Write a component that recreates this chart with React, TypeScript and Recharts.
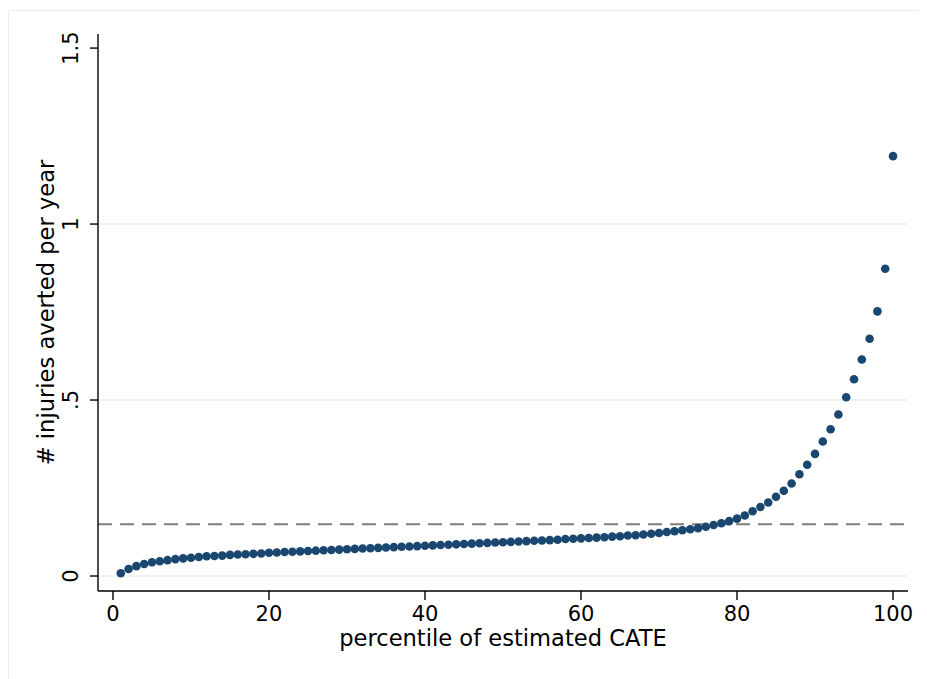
import React from "react"
import { ScatterChart, Scatter, XAxis, YAxis, ReferenceLine, Label } from "recharts"

// percentile of estimated CATE
const percentiles = [
  1, 2, 3, 4, 5, 6, 7, 8, 9, 10,
  11, 12, 13, 14, 15, 16, 17, 18, 19, 20,
  21, 22, 23, 24, 25, 26, 27, 28, 29, 30,
  31, 32, 33, 34, 35, 36, 37, 38, 39, 40,
  41, 42, 43, 44, 45, 46, 47, 48, 49, 50,
  51, 52, 53, 54, 55, 56, 57, 58, 59, 60,
  61, 62, 63, 64, 65, 66, 67, 68, 69, 70,
  71, 72, 73, 74, 75, 76, 77, 78, 79, 80,
  81, 82, 83, 84, 85, 86, 87, 88, 89, 90,
  91, 92, 93, 94, 95, 96, 97, 98, 99, 100,
]

// # injuries averted per year
const injuriesAverted = [
  0.008, 0.020, 0.028, 0.034, 0.039, 0.042, 0.045, 0.048, 0.050, 0.052,
  0.054, 0.056, 0.057, 0.058, 0.060, 0.061, 0.062, 0.063, 0.064, 0.066,
  0.067, 0.068, 0.069, 0.070, 0.071, 0.072, 0.073, 0.074, 0.075, 0.076,
  0.077, 0.078, 0.079, 0.080, 0.081, 0.082, 0.083, 0.084, 0.085, 0.086,
  0.087, 0.088, 0.089, 0.090, 0.091, 0.092, 0.093, 0.094, 0.095, 0.096,
  0.097, 0.098, 0.099, 0.100, 0.101, 0.102, 0.103, 0.105, 0.106, 0.107,
  0.108, 0.109, 0.110, 0.112, 0.113, 0.115, 0.116, 0.118, 0.120, 0.122,
  0.125, 0.127, 0.130, 0.133, 0.136, 0.140, 0.145, 0.150, 0.156, 0.163,
  0.172, 0.184, 0.196, 0.209, 0.225, 0.242, 0.263, 0.289, 0.316, 0.347,
  0.382, 0.417, 0.459, 0.508, 0.559, 0.615, 0.674, 0.752, 0.873, 1.193,
]

const meanEffect = 0.147

const xTicks = [0, 20, 40, 60, 80, 100]
const yTicks = [0, 0.5, 1, 1.5]
const yTickLabels = ["0", ".5", "1", "1.5"]
const gridValues = [0, 0.5, 1]

const points = percentiles.map((p, i) => ({ x: p, y: injuriesAverted[i] }))

const FONT = "'DejaVu Sans', sans-serif"
const NAVY = "#1a476f"

const YTick = (props: any) => {
  const { x, y, payload } = props
  const idx = yTicks.indexOf(payload.value)
  return (
    <text
      transform={`translate(${x - 12},${y}) rotate(-90)`}
      textAnchor="middle"
      fontFamily={FONT}
      fontSize={21}
      fill="#000"
    >
      {idx >= 0 ? yTickLabels[idx] : payload.value}
    </text>
  )
}

const XTick = (props: any) => {
  const { x, y, payload } = props
  return (
    <text x={x} y={y + 21} textAnchor="middle" fontFamily={FONT} fontSize={21} fill="#000">
      {payload.value}
    </text>
  )
}

export default function App() {
  return (
    <div
      style={{
        position: "relative",
        marginTop: 2,
        width: 918,
        height: 668,
        borderTop: "1px solid #e8eff2",
        borderLeft: "1px solid #e8eff2",
        background: "#fff",
      }}
    >
      <ScatterChart
        width={917}
        height={667}
        margin={{ top: 23, right: 18, left: 29, bottom: 27 }}
      >
        {gridValues.map((v) => (
          <ReferenceLine key={v} y={v} stroke="#e8eff2" strokeWidth={1.5} />
        ))}
        <ReferenceLine
          y={meanEffect}
          stroke="#7f7f7f"
          strokeWidth={2}
          strokeDasharray="14 8"
        />
        <XAxis
          type="number"
          dataKey="x"
          domain={[-1.92, 101.92]}
          ticks={xTicks}
          allowDataOverflow
          height={60}
          tickSize={9}
          tickMargin={0}
          stroke="#000"
          strokeWidth={1.4}
          tick={<XTick />}
        >
          <Label
            content={(p: any) => {
              const vb = p.viewBox
              return (
                <text
                  x={vb.x + vb.width / 2}
                  y={vb.y + 55}
                  textAnchor="middle"
                  fontFamily={FONT}
                  fontSize={22.6}
                  fill="#000"
                >
                  percentile of estimated CATE
                </text>
              )
            }}
          />
        </XAxis>
        <YAxis
          type="number"
          dataKey="y"
          domain={[-0.0426, 1.54]}
          ticks={yTicks}
          allowDataOverflow
          width={60}
          tickSize={8}
          tickMargin={0}
          stroke="#000"
          strokeWidth={1.4}
          tick={<YTick />}
        >
          <Label
            content={(p: any) => {
              const vb = p.viewBox
              return (
                <text
                  transform={`translate(${vb.x + 16},${vb.y + vb.height / 2}) rotate(-90)`}
                  textAnchor="middle"
                  fontFamily={FONT}
                  fontSize={22.6}
                  fill="#000"
                >
                  # injuries averted per year
                </text>
              )
            }}
          />
        </YAxis>
        <Scatter
          data={points}
          fill={NAVY}
          isAnimationActive={false}
          shape={(p: any) => <circle cx={p.cx} cy={p.cy} r={4.3} fill={NAVY} />}
        />
      </ScatterChart>
    </div>
  )
}
